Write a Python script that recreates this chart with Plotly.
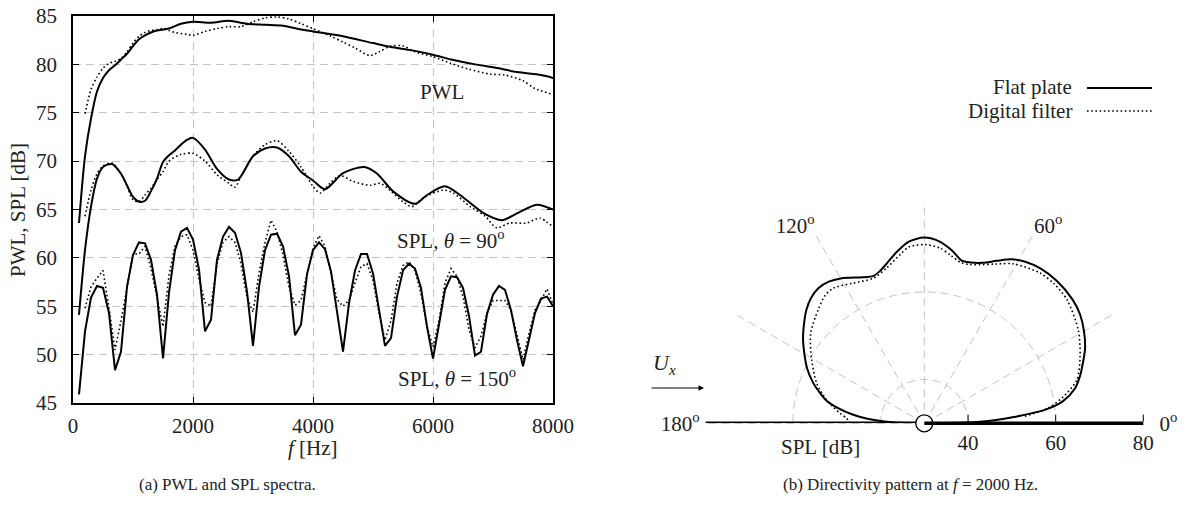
import plotly.graph_objects as go

W, H = 1188, 506
FONT = "Liberation Serif"

# ---------------- panel (a): spectra ----------------
f_150_flat = list(range(100, 8001, 100))
spl150_flat = [45.9, 52.4, 55.9, 57.1, 56.9, 54.3, 48.4, 50.3, 57.0, 60.3,
               61.6, 61.5, 59.8, 56.2, 49.6, 56.4, 60.8, 62.7, 63.1, 61.9,
               58.8, 52.4, 53.6, 59.8, 62.2, 63.2, 62.6, 60.5, 56.5, 50.9,
               57.0, 60.8, 62.4, 62.5, 61.2, 58.1, 52.0, 53.1, 58.3, 60.8,
               61.6, 60.9, 58.6, 54.6, 50.3, 55.3, 58.7, 60.4, 60.4, 58.4,
               54.6, 50.9, 51.7, 56.0, 58.7, 59.4, 58.9, 56.9, 52.9, 49.6,
               53.1, 56.7, 58.1, 58.0, 56.9, 54.0, 49.9, 50.3, 54.2, 56.2,
               57.1, 56.7, 54.6, 51.5, 48.8, 51.5, 54.3, 55.8, 56.0, 55.0]

f_150_df = list(range(200, 8001, 100))
spl150_df = [54.8, 57.0, 57.9, 58.7, 54.8, 50.5, 53.5, 56.8, 60.4,
             60.4, 61.2, 58.9, 55.9, 52.9, 58.2, 61.2, 62.2, 62.4, 60.8,
             57.8, 55.4, 55.0, 59.4, 61.6, 62.2, 61.6, 59.4, 55.9, 54.4,
             58.4, 61.6, 63.9, 62.7, 60.3, 57.0, 55.1, 55.6, 58.4, 61.0,
             62.3, 61.2, 58.4, 55.7, 55.0, 55.6, 57.4, 59.1, 59.4, 57.7,
             54.3, 51.5, 53.5, 57.4, 59.2, 59.6, 58.7, 56.3, 52.9, 50.8,
             53.5, 57.4, 58.9, 58.1, 56.0, 52.6, 50.7, 51.9, 54.3, 55.6,
             55.6, 55.6, 54.6, 51.9, 49.5, 52.2, 54.6, 55.6, 56.8, 55.2]

f_pwl_flat = [100, 200, 300, 400, 500, 600, 700, 800, 900, 1000, 1100, 1200, 1300,
              1400, 1600, 1800, 2000, 2300, 2600, 2900, 3200, 3500, 3800, 4000,
              4500, 5000, 5300, 5600, 6000, 6300, 6700, 7100, 7400, 7800, 8000]
pwl_flat = [63.6, 70.5, 74.4, 77.2, 78.6, 79.4, 79.9, 80.5, 81.1, 81.9, 82.6, 83.0, 83.3,
            83.5, 83.7, 84.2, 84.4, 84.3, 84.5, 84.2, 84.1, 84.0, 83.6, 83.4,
            82.9, 82.2, 81.8, 81.5, 81.0, 80.5, 80.0, 79.6, 79.2, 78.9, 78.6]

f_pwl_df = [200, 300, 400, 500, 600, 700, 800, 900, 1000, 1100, 1200, 1300, 1400, 1500,
            1600, 1700, 1900, 2000, 2200, 2400, 2600, 2800, 3000, 3200, 3400, 3600,
            3800, 4000, 4300, 4500, 4700, 4950, 5100, 5300, 5500, 5700, 6000, 6300,
            6600, 6950, 7200, 7500, 7700, 8000]
pwl_df = [74.9, 77.4, 78.7, 79.6, 80.1, 80.3, 80.6, 81.3, 82.2, 82.9, 83.3, 83.5, 83.6, 83.7,
          83.5, 83.3, 83.1, 83.0, 83.4, 83.7, 83.9, 83.9, 84.4, 84.8, 84.9, 84.7,
          84.2, 83.7, 82.9, 82.3, 81.7, 80.9, 81.3, 81.9, 81.9, 81.3, 80.8, 80.1,
          79.5, 79.0, 78.9, 78.3, 77.5, 76.9]

f_90_flat = [100, 200, 300, 400, 500, 650, 800, 900, 1000, 1100, 1200, 1300, 1400, 1500,
             1600, 1700, 1800, 1900, 2000, 2200, 2400, 2600, 2750, 3000, 3200, 3400,
             3600, 3800, 4000, 4200, 4500, 4850, 5060, 5340, 5700, 5900, 6200, 6450,
             6850, 7150, 7400, 7730, 8000]
spl90_flat = [54.1, 60.8, 65.3, 68.2, 69.4, 69.7, 68.7, 67.5, 66.3, 65.8, 65.9, 66.9, 68.2, 69.9,
              70.6, 71.1, 71.7, 72.2, 72.4, 71.2, 69.2, 68.1, 68.1, 70.5, 71.3, 71.4,
              70.5, 68.9, 68.0, 67.1, 68.75, 69.4, 68.75, 66.85, 65.6, 66.5, 67.4, 66.5,
              64.6, 63.9, 64.6, 65.5, 65.0]

f_90_df = [200, 300, 400, 500, 650, 800, 900, 1000, 1100, 1200, 1300, 1400, 1500, 1600,
           1800, 2000, 2200, 2400, 2600, 2700, 2800, 3000, 3200, 3400, 3600, 3800, 4000,
           4120, 4280, 4450, 4670, 4950, 5120, 5280, 5500, 5650, 5840, 6170, 6340, 6620,
           6870, 7060, 7280, 7560, 7780, 8000]
spl90_df = [64.3, 67.0, 68.7, 69.5, 69.8, 68.7, 67.4, 66.0, 65.8, 66.5, 67.2, 68.1, 68.9, 70.0,
            70.7, 70.8, 70.0, 68.6, 67.7, 67.3, 68.4, 70.5, 71.7, 72.1, 71.0, 69.4, 67.4,
            66.7, 67.7, 68.5, 67.9, 67.5, 67.7, 67.0, 65.8, 65.3, 66.2, 67.0, 66.7, 65.3,
            64.3, 63.1, 63.6, 63.6, 64.1, 63.2]

x_ticks = [0, 2000, 4000, 6000, 8000]
y_ticks = [45, 50, 55, 60, 65, 70, 75, 80, 85]

# ---------------- panel (b): directivity at 2000 Hz ----------------
theta_flat = [0, 1.5, 2.5, 4, 6.5, 9, 13, 17, 20, 25, 30, 35, 40, 47, 53, 58, 62, 66, 70, 74,
              77, 81, 85, 90, 95, 99, 103, 106, 109, 113, 117, 120, 124, 128, 132, 136, 140,
              145, 150, 155, 160, 164, 167, 170, 173, 175.5, 177.5, 179, 180]
dir_flat = [31, 42, 46, 50.5, 58, 62, 65.3, 67.2, 68.4, 70.5, 72.1, 73.4, 74.1, 74.4, 74.2,
            73.5, 72.4, 70.6, 69.0, 68.2, 68.1, 70.0, 71.6, 72.4, 71.6, 69.7, 67.6, 66.3,
            65.6, 66.2, 67.3, 68.2, 69.0, 69.2, 68.6, 67.4, 65.8, 63.8, 61.6, 59.5, 57.0,
            54.7, 52.9, 50.0, 46.5, 43.0, 38.6, 34.0, 31.5]

theta_df = [4, 7, 10.8, 15.9, 23.2, 31.2, 40.9, 47, 52.4, 60.8, 66, 70.6, 74, 77, 81, 85, 90,
            95, 98, 103.6, 109.4, 116.9, 124, 128, 133, 141.6, 150.6, 159.6, 166.6, 173.2,
            176.3, 180]
dir_df = [53, 58.5, 62.3, 66.2, 68.7, 71.1, 73.1, 73.5, 73.3, 71.7, 69.8, 68.4, 67.7, 67.6,
          68.8, 70.2, 70.8, 70.4, 69.0, 66.5, 65.1, 65.9, 67.2, 66.9, 65.5, 63.1, 59.5, 56.2,
          52.9, 49.4, 47.8, 47.0]

r_ticks = [40, 60, 80]
r_range = [30, 80]
theta_ticks = [0, 30, 60, 90, 120, 150, 180]
NB = "\u00a0"
theta_text = [NB * 3 + "0<sup>o</sup>", "", "60<sup>o</sup>", "", "120<sup>o</sup>", "",
              "180<sup>o</sup>" + NB]

# ---------------- styles ----------------
SOLID = dict(color="black", width=2)
DOTTED = dict(color="black", width=1.6, dash="1.6px,2.6px")
GRID = "#c4c4c4"
GDASH = "8px,5px"

fig = go.Figure()


def px_x(p):
    return p / W


def px_y(p):
    return 1 - p / H


# spectra
fig.add_trace(go.Scatter(x=f_pwl_flat, y=pwl_flat, mode="lines",
                         line=dict(**SOLID, shape="spline", smoothing=0.8)))
fig.add_trace(go.Scatter(x=f_pwl_df, y=pwl_df, mode="lines",
                         line=dict(**DOTTED, shape="spline", smoothing=0.8)))
fig.add_trace(go.Scatter(x=f_90_flat, y=spl90_flat, mode="lines",
                         line=dict(**SOLID, shape="spline", smoothing=0.8)))
fig.add_trace(go.Scatter(x=f_90_df, y=spl90_df, mode="lines",
                         line=dict(**DOTTED, shape="spline", smoothing=0.8)))
fig.add_trace(go.Scatter(x=f_150_flat, y=spl150_flat, mode="lines", line=SOLID))
fig.add_trace(go.Scatter(x=f_150_df, y=spl150_df, mode="lines", line=DOTTED))

# directivity
fig.add_trace(go.Scatterpolar(r=dir_df, theta=theta_df, mode="lines",
                              line=dict(**DOTTED, shape="spline", smoothing=0.8)))
fig.add_trace(go.Scatterpolar(r=dir_flat, theta=theta_flat, mode="lines",
                              line=dict(**SOLID, shape="spline", smoothing=0.8)))
# baseline on the 180 degree side (radial axis line covers the 0 degree side)
fig.add_trace(go.Scatterpolar(r=[r_range[0], r_range[1]], theta=[180, 180], mode="lines",
                              line=dict(color="black", width=3.5)))
fig.add_trace(go.Scatterpolar(r=[r_range[0]], theta=[0], mode="markers", cliponaxis=False,
                              marker=dict(size=17, color="white",
                                          line=dict(color="black", width=1.3))))

axis_common = dict(showline=True, linecolor="black", linewidth=1.5, mirror="allticks",
                   ticks="inside", ticklen=6, tickcolor="black", tickwidth=1,
                   showgrid=True, gridcolor=GRID, griddash=GDASH, gridwidth=1,
                   zeroline=False, automargin=False,
                   tickfont=dict(family=FONT, size=21, color="#222"))

fig.update_layout(
    width=W, height=H,
    margin=dict(l=0, r=0, t=0, b=0, autoexpand=False),
    paper_bgcolor="white", plot_bgcolor="white",
    showlegend=False,
    font=dict(family=FONT, size=21, color="#222"),
    xaxis=dict(domain=[px_x(73), px_x(553)], range=[0, 8000], tickvals=x_ticks,
               ticklabelstandoff=3, **axis_common),
    yaxis=dict(domain=[px_y(403), px_y(16)], range=[45, 85], tickvals=y_ticks,
               ticklabelstandoff=10, **axis_common),
    polar=dict(
        domain=dict(x=[px_x(705.3), px_x(1143.3)], y=[px_y(423.3), px_y(204.3)]),
        sector=[0, 180], hole=0, bgcolor="white",
        radialaxis=dict(range=r_range, tickvals=r_ticks, angle=0, side="clockwise",
                        showline=True, linewidth=3.5, linecolor="black",
                        ticks="inside", ticklen=7, tickcolor="black", tickwidth=1,
                        showgrid=True, gridcolor=GRID, griddash=GDASH, gridwidth=1,
                        tickfont=dict(family=FONT, size=21, color="#222"), tickangle=0),
        angularaxis=dict(rotation=0, direction="counterclockwise", tickvals=theta_ticks,
                         ticktext=theta_text, showline=False, ticks="",
                         showgrid=True, gridcolor=GRID, griddash=GDASH, gridwidth=1,
                         tickfont=dict(family=FONT, size=21, color="#222")),
    ),
)

ann = []
# axis titles
ann.append(dict(text="<i>f</i> [Hz]", x=px_x(313), y=px_y(448), xref="paper", yref="paper",
                showarrow=False, xanchor="center", yanchor="middle", font=dict(size=21)))
ann.append(dict(text="PWL, SPL [dB]", x=px_x(18), y=px_y(210), xref="paper", yref="paper",
                showarrow=False, textangle=-90, xanchor="center", yanchor="middle",
                font=dict(size=21)))
# curve labels
ann.append(dict(text="PWL", x=6155, y=77.1, xref="x", yref="y", showarrow=False,
                xanchor="center", yanchor="middle", font=dict(size=21)))
ann.append(dict(text="SPL, <i>θ</i> = 90<sup>o</sup>", x=6306, y=61.9, xref="x", yref="y",
                showarrow=False, xanchor="center", yanchor="middle", font=dict(size=21)))
ann.append(dict(text="SPL, <i>θ</i> = 150<sup>o</sup>", x=6403, y=47.6, xref="x", yref="y",
                showarrow=False, xanchor="center", yanchor="middle", font=dict(size=21)))
# polar extras
ann.append(dict(text="SPL [dB]", x=px_x(820), y=px_y(447), xref="paper", yref="paper",
                showarrow=False, xanchor="center", yanchor="middle", font=dict(size=21)))
ann.append(dict(text="<i>U<sub>x</sub></i>", x=px_x(664), y=px_y(364), xref="paper",
                yref="paper", showarrow=False, xanchor="center", yanchor="middle",
                font=dict(size=22)))
ann.append(dict(text="", x=px_x(704), y=px_y(388), xref="paper", yref="paper",
                ax=-54, ay=0, showarrow=True, arrowhead=2, arrowsize=1.1, arrowwidth=1,
                arrowcolor="black"))
# legend
ann.append(dict(text="Flat plate", x=px_x(1073), y=px_y(87), xref="paper", yref="paper",
                showarrow=False, xanchor="right", yanchor="middle", font=dict(size=21),
                borderpad=0))
ann.append(dict(text="Digital filter", x=px_x(1073), y=px_y(111), xref="paper", yref="paper",
                showarrow=False, xanchor="right", yanchor="middle", font=dict(size=21),
                borderpad=0))
# captions
ann.append(dict(text="(a) PWL and SPL spectra.", x=px_x(228), y=px_y(484), xref="paper",
                yref="paper", showarrow=False, xanchor="center", yanchor="middle",
                font=dict(size=17)))
ann.append(dict(text="(b) Directivity pattern at <i>f</i> = 2000 Hz.", x=px_x(910),
                y=px_y(484), xref="paper", yref="paper", showarrow=False, xanchor="center",
                yanchor="middle", font=dict(size=17)))

fig.update_layout(annotations=ann)

fig.add_shape(type="line", xref="paper", yref="paper", x0=px_x(1087), x1=px_x(1152),
              y0=px_y(88), y1=px_y(88), line=dict(color="black", width=2))
fig.add_shape(type="line", xref="paper", yref="paper", x0=px_x(1087), x1=px_x(1152),
              y0=px_y(111), y1=px_y(111),
              line=dict(color="black", width=1.6, dash="1.6px,2.6px"))

fig.write_html("out.html", config={"displayModeBar": False},
               post_script="document.body.style.margin='0px';document.body.style.overflow='hidden';")
